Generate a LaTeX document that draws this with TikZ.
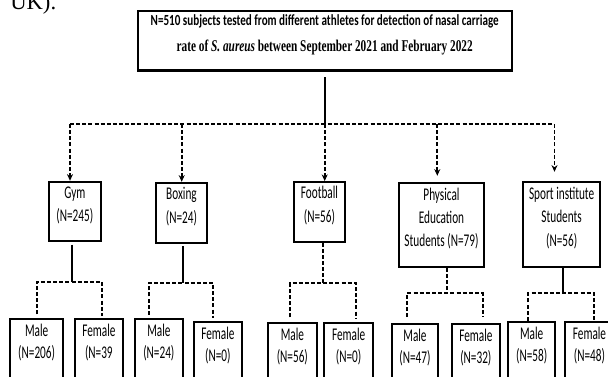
\documentclass[tikz,border=0pt]{standalone}
\usepackage{fontspec}
\setmainfont{Liberation Serif}
\newfontfamily\boxfont[FakeStretch=0.63]{Carlito}
\newfontfamily\hdsans{Carlito}
\newfontfamily\hdserif{Liberation Serif}
\usetikzlibrary{arrows.meta,fit,calc}
\newcommand\fitwidth[2]{\resizebox{#1}{\height}{#2}}
\begin{document}
\begin{tikzpicture}[x=0.75pt,y=-0.75pt,
  box/.style={draw, line width=1.4pt, inner sep=0pt, align=center,
    font=\boxfont\fontsize{13.4pt}{17.5pt}\selectfont},
  gbox/.style={box, font=\boxfont\fontsize{13.4pt}{16.5pt}\selectfont},
  hbox/.style={draw, line width=1.6pt, inner sep=0pt, align=center,
    font=\fontsize{11pt}{19.3pt}\selectfont},
  dline/.style={line width=1.4pt, dash pattern=on 3pt off 1.6pt},
  sline/.style={line width=1.4pt},
  arr/.style={dline, -{Stealth[length=5pt,width=4.5pt]}}
]
\useasboundingbox (0,0) rectangle (608,376);
\clip (0,0) rectangle (608,376);

\node[anchor=base west, inner sep=0pt, font=\fontsize{17pt}{17pt}\selectfont] (uk) at (10,9) {UK).};

% header
\node[hbox, fit={(137.7,10.7) (511.7,70.5)}] (hdr)
  {\fitwidth{261pt}{\hdsans\bfseries\fontsize{11.6pt}{19.3pt}\selectfont N=510 subjects tested from different athletes for detection of nasal carriage}\\
   \fitwidth{222pt}{\hdserif\bfseries\fontsize{12.3pt}{19.3pt}\selectfont rate of \textit{S. aureus} between September 2021 and February 2022}};

% categories
\node[box, fit={(49,181.7) (100.7,240.7)}] (gym) {Gym\\(N=245)};
\node[box, fit={(156,182.7) (207,242.7)}] (boxing) {Boxing\\(N=24)};
\node[box, fit={(294,182) (345,241.7)}] (football) {Football\\(N=56)};
\node[box, fit={(399,182.7) (484,267)}] (phys) {Physical\\Education\\Students (N=79)};
\node[box, fit={(523.3,181.7) (600,266.7)}] (sport) {Sport institute\\Students\\(N=56)};

% gender boxes
\node[gbox, fit={(10,319.3) (63.3,378)}] (gm) {Male\\(N=206)};
\node[gbox, fit={(75,319.3) (122.7,378)}] (gf) {Female\\(N=39};
\node[gbox, fit={(135,319.3) (182.7,378)}] (bm) {Male\\(N=24)};
\node[gbox, fit={(194,321.7) (241.7,381)}] (bf) {Female\\(N=0)};
\node[gbox, fit={(268,322.7) (316.7,382)}] (fm) {Male\\(N=56)};
\node[gbox, fit={(324,322.7) (373.3,382)}] (ff) {Female\\(N=0)};
\node[gbox, fit={(391.7,324) (438.3,384)}] (pm) {Male\\(N=47)};
\node[gbox, fit={(451.7,324) (500,384)}] (pf) {Female\\(N=32)};
\node[gbox, fit={(508.3,321.7) (555,381)}] (sm) {Male\\(N=58)};
\node[gbox, fit={(565,321.7) (614,381)}] (sf) {Female\\(N=48)};

% top distribution
\coordinate (hj) at (324.7,124);
\coordinate (hl) at (70,124);
\coordinate (hb) at (181.7,124);
\coordinate (hp) at (437.3,124);
\coordinate (hr) at (554.5,124);
\draw[sline] ($(hdr.south)+(0,5.5)$) -- (hj);
\draw[dline] (hl) -- (hr);
\draw[arr] (hl) -- (hl |- gym.north);
\draw[arr] (hb) -- (hb |- boxing.north);
\draw[arr] (hj) -- (hj |- football.north);
\draw[arr] (hp) -- ($(hp |- phys.north)+(0,-6)$);
\draw[arr] (hr) -- ($(hr |- sport.north)+(0,-9)$);

% Gym
\coordinate (gj) at (71.7,281.7);
\coordinate (gl) at (36.7,281.7);
\coordinate (gr) at (101.7,281.7);
\draw[sline] ($(gj |- gym.south)+(0,3)$) -- (gj);
\draw[dline] ($(gl |- gm.north)+(0,-4)$) -- (gl) -- (gr) -- ($(gr |- gf.north)+(0,-2.5)$);

% Boxing
\coordinate (bj) at (183.3,283);
\coordinate (bl) at (149,283);
\coordinate (br) at (213.3,283);
\draw[sline] ($(bj |- boxing.south)+(0,2.5)$) -- (bj);
\draw[dline] ($(bl |- bm.north)+(0,-3.5)$) -- (bl) -- (br) -- ($(br |- bf.north)+(0,-2.5)$);

% Football
\coordinate (fj) at (323.3,283);
\coordinate (fl) at (290,283);
\coordinate (fr) at (356,283);
\draw[dline] (fj |- football.south) -- (fj);
\draw[dline] ($(fl |- fm.north)+(0,-4.5)$) -- (fl) -- (fr) -- ($(fr |- ff.north)+(0,-3.5)$);

% Physical
\coordinate (pj) at (446.7,293.3);
\coordinate (pl) at (406.7,293.3);
\coordinate (pr) at (482.7,293.3);
\draw[dline] (pj |- phys.south) -- (pj);
\draw[dline] ($(pl |- pm.north)+(0,-6)$) -- (pl) -- (pr) -- ($(pr |- pf.north)+(0,-6)$);

% Sport
\coordinate (sj) at (563.3,293.3);
\coordinate (sl) at (528.3,293.3);
\coordinate (sr) at (594.3,293.3);
\draw[sline] (sj |- sport.south) -- (sj);
\draw[dline] (sl |- sm.north) -- (sl) -- (sr) -- (sr |- sf.north);
\end{tikzpicture}
\end{document}
